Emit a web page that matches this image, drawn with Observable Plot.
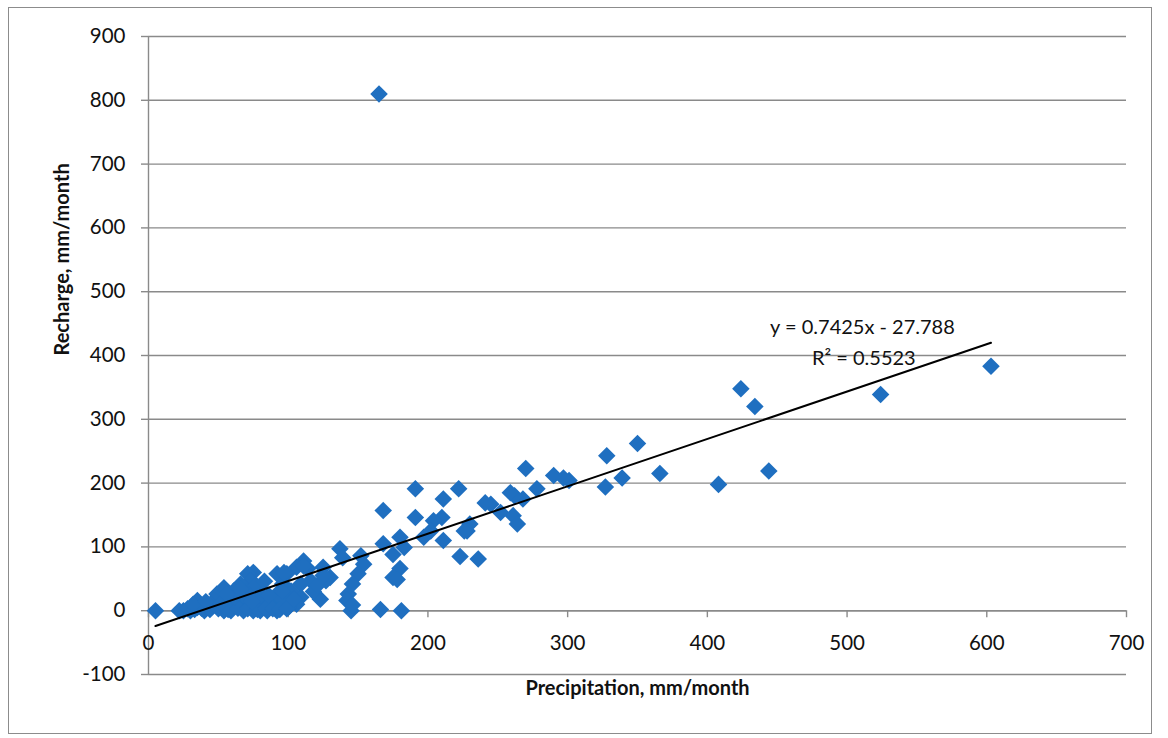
<!DOCTYPE html>
<html>
<head>
<meta charset="utf-8">
<script src="https://cdn.jsdelivr.net/npm/d3@7"></script>
<script src="https://cdn.jsdelivr.net/npm/@observablehq/plot@0.6"></script>
<style>
  html, body { margin: 0; padding: 0; background: #fff; }
  #wrap { position: relative; width: 1168px; height: 738px; overflow: hidden; }
  #wrap svg { position: absolute; left: 0; top: 0; }
  #border { position: absolute; left: 8px; top: 7px; width: 1144px; height: 727px;
            border: 1.5px solid #8c8c8c; box-sizing: border-box; pointer-events: none; }
</style>
</head>
<body>
<div id="wrap"><div id="border"></div></div>
<script>
// Precipitation (mm/month) and Recharge (mm/month)
const precipitation = [
  5, 165, 603, 524, 424, 434, 444, 408, 366, 350, 339, 328, 327,
  301, 297, 290, 278, 270, 268, 262, 259, 252, 261, 264, 245, 241,
  230, 228, 236, 223, 222, 226, 211, 210, 204, 211, 202, 197, 191, 191,
  180, 183, 168, 168, 175, 180, 175, 178, 166, 181,
  137, 139, 152, 154, 150, 146, 143, 142, 145, 146,
  130, 127, 125, 123, 114, 111, 106, 116, 109, 109, 106, 102,
  99, 92, 96, 92, 87, 85, 80, 75, 71, 73, 66, 61, 49, 47, 42, 35,
  30, 25, 54, 59, 68, 75, 80, 92, 59, 68, 82, 90, 54, 35,
  63, 70, 78, 88, 95, 100, 40, 45, 97, 111, 125,
  22, 28, 33, 38, 44, 50, 57, 64, 71, 78, 84, 89, 94, 99,
  32, 41, 52, 62, 74, 86, 96, 104, 56, 66, 77, 83, 118, 121
];
const recharge = [
  0, 810, 383, 339, 348, 320, 219, 198, 215, 262, 208, 243, 194,
  204, 208, 212, 191, 223, 175, 180, 185, 154, 149, 136, 167, 169,
  136, 125, 81, 85, 191, 125, 175, 146, 141, 110, 125, 115, 191, 146,
  115, 99, 157, 105, 88, 66, 52, 49, 2, 0,
  97, 83, 86, 73, 58, 42, 26, 16, 0, 9,
  52, 47, 68, 18, 66, 78, 68, 47, 42, 21, 10, 31,
  58, 58, 42, 26, 16, 0, 26, 60, 58, 47, 42, 31, 26, 16, 5, 5,
  0, 0, 0, 0, 0, 0, 0, 0, 16, 16, 10, 16, 36, 16,
  8, 30, 20, 6, 20, 5, 0, 10, 60, 70, 55,
  0, 3, 2, 4, 2, 3, 2, 4, 3, 2, 4, 3, 2, 3,
  10, 14, 12, 22, 14, 24, 30, 18, 26, 34, 40, 46, 30, 40
];
const xTicks = [0, 100, 200, 300, 400, 500, 600, 700];
const yTicks = [-100, 0, 100, 200, 300, 400, 500, 600, 700, 800, 900];
const slope = 0.7425;
const intercept = -27.788;
const rSquared = 0.5523;
const xTitle = "Precipitation, mm/month";
const yTitle = "Recharge, mm/month";

const points = precipitation.map((p, i) => ({p, r: recharge[i]}));
const xMin = d3.min(precipitation), xMax = d3.max(precipitation);
const trend = [xMin, xMax].map(p => ({p, r: slope * p + intercept}));
const eqText = `y = ${slope}x - ${Math.abs(intercept)}`;
const r2Text = `R² = ${rSquared}`;

const font = "Lato, 'Open Sans', sans-serif";
const gridColor = "#8a8a8a";

const chart = Plot.plot({
  width: 1168,
  height: 738,
  marginLeft: 148,
  marginRight: 42,
  marginTop: 36,
  marginBottom: 64,
  style: {fontFamily: font, background: "transparent"},
  x: {domain: [0, 700], ticks: xTicks, axis: null, label: null},
  y: {domain: [-100, 900], ticks: yTicks, label: null},
  marks: [
    Plot.gridY(yTicks, {stroke: gridColor, strokeOpacity: 1, strokeWidth: 1.4}),
    Plot.ruleX([0], {stroke: gridColor, strokeWidth: 1.4}),
    Plot.ruleY([0], {stroke: gridColor, strokeWidth: 1.4}),
    Plot.ruleX(xTicks, {x: d => d, y1: 0, y2: 0, insetBottom: -7, stroke: gridColor, strokeWidth: 1.4}),
    Plot.axisY(yTicks, {
      anchor: "left", tickSize: 7, tickPadding: 16, stroke: gridColor, strokeWidth: 1.4,
      tickFormat: d => String(d), fontSize: 20.5, fill: "#111", label: null
    }),
    Plot.text(xTicks, {x: d => d, y: 0, dy: 33, text: d => String(d), fontSize: 20.5, fill: "#111"}),
    Plot.dot(points, {x: "p", y: "r", symbol: "diamond2", r: 7.9, fill: "#1f6fc0", stroke: "none"}),
    Plot.line(trend, {x: "p", y: "r", stroke: "#000", strokeWidth: 2}),
    Plot.text([eqText], {x: 511, y: 444, text: d => d, fontSize: 20, fill: "#111"}),
    Plot.text([r2Text], {x: 512, y: 395, text: d => d, fontSize: 20, fill: "#111"}),
    Plot.text([xTitle], {frameAnchor: "bottom", dy: 20, text: d => d, fontSize: 20, fontWeight: "bold", fill: "#111"}),
    Plot.text([yTitle], {frameAnchor: "left", dx: -86, rotate: -90, text: d => d, fontSize: 20, fontWeight: "bold", fill: "#111"})
  ]
});
document.getElementById("wrap").prepend(chart);
</script>
</body>
</html>
